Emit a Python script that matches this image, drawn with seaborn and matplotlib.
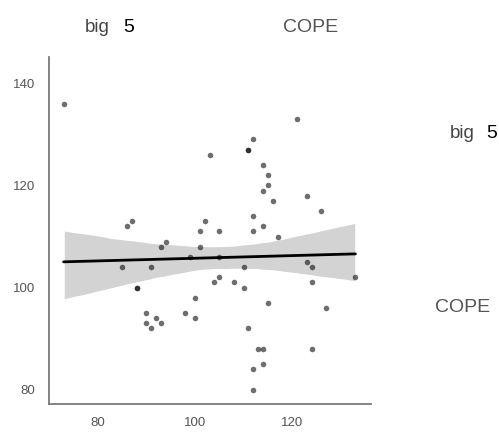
import matplotlib
matplotlib.use("Agg")
import matplotlib.pyplot as plt
import seaborn as sns
import pandas as pd

# big 5 score (x) vs COPE score (y)
big5 = [73, 121, 112, 111, 111, 103, 114, 115, 115, 114, 123, 116, 126, 112,
        87, 86, 102, 114, 101, 105, 112, 117, 94, 93, 101, 99, 105, 85, 91,
        110, 123, 124, 88, 88, 105, 104, 108, 110, 124, 133, 100, 115, 127,
        98, 90, 100, 92, 90, 93, 91, 111, 113, 114, 124, 114, 112, 112]
cope = [136, 133, 129, 127, 127, 126, 124, 122, 120, 119, 118, 117, 115, 114,
        113, 112, 113, 112, 111, 111, 111, 110, 109, 108, 108, 106, 106, 104, 104,
        104, 105, 104, 100, 100, 102, 101, 101, 100, 101, 102, 98, 97, 96,
        95, 95, 94, 94, 93, 93, 92, 92, 88, 88, 88, 85, 84, 80]

xticks = [80, 100, 120]
yticks = [80, 100, 120, 140]

df = pd.DataFrame({"big5": big5, "cope": cope})

sns.set_style("white")
plt.rcParams["font.family"] = ["Liberation Sans", "DejaVu Sans"]

fig = plt.figure(figsize=(4.99, 4.32), dpi=100)
ax = fig.add_axes([0.0972, 0.0648, 0.6463, 0.8026])

sns.regplot(data=df, x="big5", y="cope", ax=ax, color="black", ci=80, seed=1,
            scatter_kws={"s": 16, "alpha": 0.57, "linewidths": 0, "zorder": 3},
            line_kws={"lw": 2.0, "zorder": 4})

# solid light grey confidence band
for coll in ax.collections:
    if coll.get_zorder() != 3:
        coll.set_facecolor("#d3d3d3")
        coll.set_alpha(1)
        coll.set_zorder(2)

ax.set_xlim(69.9, 136.2)
ax.set_ylim(77.2, 145.1)
ax.set_xticks(xticks)
ax.set_yticks(yticks)
ax.set_xlabel("")
ax.set_ylabel("")
sns.despine(ax=ax)
for side in ["left", "bottom"]:
    ax.spines[side].set_color("#7a7a7a")
    ax.spines[side].set_linewidth(1.3)
ax.tick_params(axis="both", length=4.5, width=1.3, color="#333333",
               labelsize=9.5, labelcolor="#555555", pad=5, direction="out")

# header and side labels
fig.text(0.170, 0.937, "big", fontsize=13.5, color="#444444", ha="left", va="center")
fig.text(0.246, 0.937, "5", fontsize=14, color="black", ha="left", va="center")
fig.text(0.622, 0.937, "COPE", fontsize=14, color="#555555", ha="center", va="center")
fig.text(0.901, 0.692, "big", fontsize=13.5, color="#444444", ha="left", va="center")
fig.text(0.975, 0.692, "5", fontsize=14, color="black", ha="left", va="center")
fig.text(0.927, 0.289, "COPE", fontsize=14, color="#555555", ha="center", va="center")

fig.savefig("out.png", dpi=100)
